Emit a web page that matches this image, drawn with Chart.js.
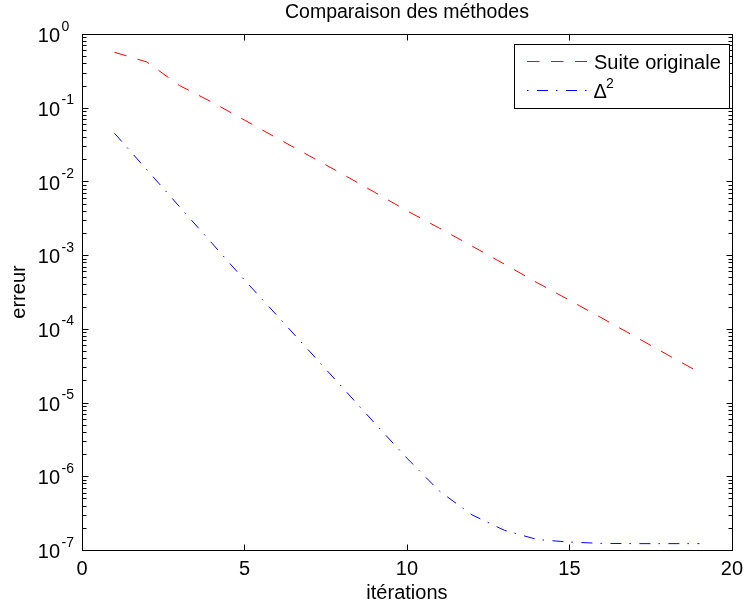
<!DOCTYPE html>
<html>
<head>
<meta charset="utf-8">
<title>Comparaison des méthodes</title>
<script src="https://cdn.jsdelivr.net/npm/chart.js@4.4.0/dist/chart.umd.min.js"></script>
<style>
  html, body { margin: 0; padding: 0; background: #fff; }
  canvas { display: block; }
</style>
</head>
<body>
<canvas id="errChart" width="750" height="605"></canvas>
<script>
// values
const iterations = [1, 2, 3, 4, 5, 6, 7, 8, 9, 10, 11, 12, 13, 14, 15, 16, 17, 18, 19];
const suiteOriginale = [0.565, 0.417, 0.2, 0.119, 0.068, 0.0387, 0.0222, 0.0127, 0.00715, 0.0040,
  0.00232, 0.00133, 7.55e-4, 4.25e-4, 2.45e-4, 1.4e-4, 7.95e-5, 4.5e-5, 2.57e-5];
const delta2 = [0.045, 0.0143, 0.00455, 0.00145, 4.6e-4, 1.52e-4, 4.98e-5, 1.63e-5, 5.3e-6, 1.76e-6,
  6.3e-7, 3.0e-7, 1.85e-7, 1.39e-7, 1.28e-7, 1.23e-7, 1.22e-7, 1.22e-7, 1.22e-7];
const xTicks = [0, 5, 10, 15, 20];
const yExponents = [0, -1, -2, -3, -4, -5, -6, -7];

const FONT = '"Liberation Sans", Arial, Helvetica, sans-serif';
const RED_DASH = [12.5, 11.5];
const BLUE_DASH = [11, 8, 1.5, 8.5];

// matlab-like box, inward ticks, 10^k labels and legend
const matlabAxes = {
  id: 'matlabAxes',
  afterDraw(chart) {
    const { ctx, chartArea: a, scales: { x, y } } = chart;
    const L = Math.round(a.left) + 0.5, R = Math.round(a.right) + 0.5;
    const T = Math.round(a.top) + 0.5, B = Math.round(a.bottom) + 0.5;
    ctx.save();
    ctx.strokeStyle = '#000';
    ctx.lineWidth = 1;
    ctx.strokeRect(L, T, R - L, B - T);

    ctx.beginPath();
    xTicks.forEach(v => {
      const px = Math.round(x.getPixelForValue(v)) + 0.5;
      ctx.moveTo(px, B); ctx.lineTo(px, B - 6);
      ctx.moveTo(px, T); ctx.lineTo(px, T + 6);
    });
    yExponents.forEach(k => {
      for (let m = 1; m <= 9; m++) {
        const v = m * Math.pow(10, k);
        if (v > 1) break;
        const py = Math.round(y.getPixelForValue(v)) + 0.5;
        const len = m === 1 ? 6 : 4;
        ctx.moveTo(L, py); ctx.lineTo(L + len, py);
        ctx.moveTo(R, py); ctx.lineTo(R - len, py);
      }
    });
    ctx.stroke();

    ctx.fillStyle = '#000';
    ctx.textBaseline = 'alphabetic';
    yExponents.forEach(k => {
      const py = y.getPixelForValue(Math.pow(10, k));
      ctx.font = '20px ' + FONT;
      ctx.textAlign = 'right';
      ctx.fillText('10', a.left - 22, py + 8.2);
      ctx.font = '14px ' + FONT;
      ctx.textAlign = 'left';
      ctx.fillText(k === 0 ? '0' : '-' + (-k), a.left - 20.5, py - 3.4);
    });

    ctx.save();
    ctx.translate(19, (a.top + a.bottom) / 2);
    ctx.rotate(-Math.PI / 2);
    ctx.font = '20px ' + FONT;
    ctx.textAlign = 'center';
    ctx.textBaseline = 'middle';
    ctx.fillText('erreur', 0, 0);
    ctx.restore();

    // legend
    ctx.fillStyle = '#fff';
    ctx.fillRect(514.5, 44.5, 215, 64);
    ctx.strokeRect(514.5, 44.5, 215, 64);
    ctx.beginPath();
    ctx.strokeStyle = '#ff0000';
    ctx.setLineDash(RED_DASH);
    ctx.moveTo(527, 61.5); ctx.lineTo(587, 61.5);
    ctx.stroke();
    ctx.beginPath();
    ctx.strokeStyle = '#0000ff';
    ctx.setLineDash(BLUE_DASH);
    ctx.lineDashOffset = 19;
    ctx.moveTo(527, 90.5); ctx.lineTo(587, 90.5);
    ctx.stroke();
    ctx.setLineDash([]);
    ctx.fillStyle = '#000';
    ctx.textAlign = 'left';
    ctx.font = '20px ' + FONT;
    ctx.fillText('Suite originale', 594, 68.5);
    ctx.fillText('Δ', 593.5, 98);
    ctx.font = '14px ' + FONT;
    ctx.fillText('2', 606, 88);
    ctx.restore();
  }
};

const toPoints = vals => iterations.map((it, i) => ({ x: it, y: vals[i] }));

new Chart(document.getElementById('errChart'), {
  type: 'line',
  data: {
    datasets: [{
      label: 'Suite originale',
      data: toPoints(suiteOriginale),
      borderColor: '#ff0000',
      borderWidth: 1,
      borderDash: RED_DASH,
      pointRadius: 0,
      fill: false,
      tension: 0
    }, {
      label: 'Δ²',
      data: toPoints(delta2),
      borderColor: '#0000ff',
      borderWidth: 1,
      borderDash: BLUE_DASH,
      pointRadius: 0,
      fill: false,
      tension: 0
    }]
  },
  options: {
    responsive: false,
    animation: false,
    devicePixelRatio: 1,
    layout: { padding: { left: 82, right: 15, top: 0, bottom: 0 } },
    plugins: {
      legend: { display: false },
      tooltip: { enabled: false },
      title: {
        display: true,
        fullSize: false,
        text: 'Comparaison des méthodes',
        color: '#000',
        font: { family: FONT, size: 19.5, weight: 'normal' },
        padding: { top: 0.5, bottom: 10.1 }
      }
    },
    scales: {
      x: {
        type: 'linear',
        min: 0,
        max: 20,
        afterBuildTicks: s => { s.ticks = xTicks.map(v => ({ value: v })); },
        afterFit: s => { s.height = 55; },
        grid: { display: false, drawTicks: false },
        border: { display: false },
        ticks: { color: '#000', font: { family: FONT, size: 20 }, padding: 7, maxRotation: 0, autoSkip: false },
        title: { display: true, text: 'itérations', color: '#000', font: { family: FONT, size: 20 }, padding: { top: 0, bottom: 0 } }
      },
      y: {
        type: 'logarithmic',
        min: 1e-7,
        max: 1,
        display: false
      }
    }
  },
  plugins: [matlabAxes]
});
</script>
</body>
</html>
